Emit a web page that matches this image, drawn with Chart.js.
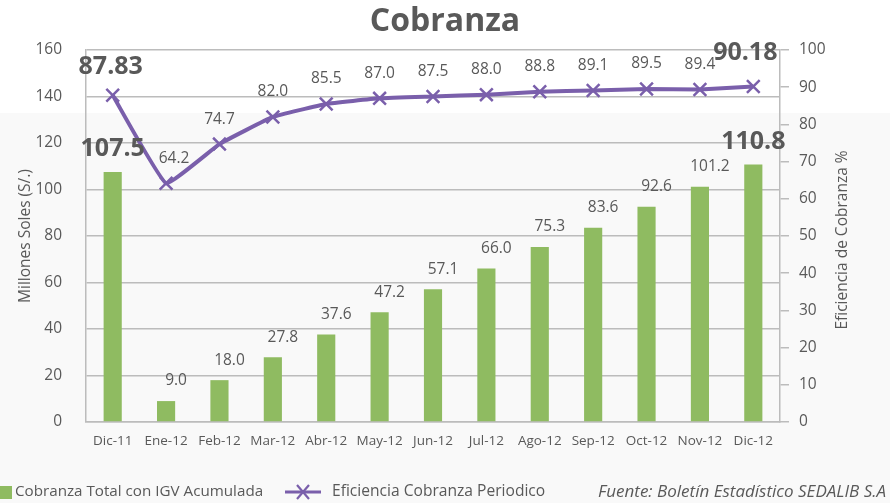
<!DOCTYPE html>
<html><head><meta charset="utf-8">
<script src="https://cdn.jsdelivr.net/npm/chart.js@4"></script>
<style>
html,body{margin:0;padding:0;}
body{width:890px;height:503px;background:linear-gradient(#ffffff 0,#ffffff 113px,#f9f9f9 113px,#f9f9f9 100%);overflow:hidden;}
#wrap{position:relative;width:890px;height:503px;}
</style>
</head><body><div id="wrap"><canvas id="c" width="890" height="503"></canvas></div>
<script>
const categories = ['Dic-11','Ene-12','Feb-12','Mar-12','Abr-12','May-12','Jun-12','Jul-12','Ago-12','Sep-12','Oct-12','Nov-12','Dic-12'];
const cobranzaValues = [107.5, 9.0, 18.0, 27.8, 37.6, 47.2, 57.1, 66.0, 75.3, 83.6, 92.6, 101.2, 110.8];
const eficienciaValues = [87.83, 64.2, 74.7, 82.0, 85.5, 87.0, 87.5, 88.0, 88.8, 89.1, 89.5, 89.4, 90.18];
const leftTickRange = [0, 160, 20];
const rightTickRange = [0, 100, 10];
const chartTitle = 'Cobranza';
const seriesNames = ['Cobranza Total con IGV Acumulada', 'Eficiencia Cobranza Periodico'];
const axisTitles = ['Millones Soles (S/.)', 'Eficiencia de Cobranza %'];
const sourceNote = 'Fuente: Boletín Estadístico SEDALIB S.A';

const GREEN = '#8fbb61';
const PURPLE = '#7a5fab';
const TEXT = '#595959';
const GRID = '#bcbcbc';
const FONT = "'Open Sans', sans-serif";

const labelPlugin = {
  id: 'labels',
  afterDatasetsDraw(chart) {
    const ctx = chart.ctx;
    ctx.save();
    ctx.textAlign = 'center';
    ctx.textBaseline = 'middle';
    ctx.fillStyle = TEXT;
    const n = categories.length;
    const barMeta = chart.getDatasetMeta(0);
    barMeta.data.forEach((el, i) => {
      const emph = (i === 0 || i === n - 1);
      ctx.font = emph ? `bold 25px ${FONT}` : `15.5px ${FONT}`;
      const dx = emph ? 0 : 10;
      const dy = emph ? 23 : 20;
      ctx.fillText(cobranzaValues[i].toFixed(1), el.x + dx, el.y - dy);
    });
    const lineMeta = chart.getDatasetMeta(1);
    lineMeta.data.forEach((el, i) => {
      const emph = (i === 0 || i === n - 1);
      ctx.font = emph ? `bold 25px ${FONT}` : `15.5px ${FONT}`;
      let dx = 0, dy = 25;
      if (emph) { dy = i === 0 ? 28 : 34; dx = i === 0 ? -2 : -8; }
      if (i === 1) { dx = 8; dy = 25; }
      ctx.fillText(emph ? eficienciaValues[i].toFixed(2) : eficienciaValues[i].toFixed(1), el.x + dx, el.y - dy);
    });
    ctx.restore();
  }
};

const decorPlugin = {
  id: 'decor',
  afterDraw(chart) {
    const ctx = chart.ctx;
    const area = chart.chartArea;
    ctx.save();
    ctx.fillStyle = TEXT;
    ctx.textBaseline = 'middle';
    ctx.textAlign = 'center';
    ctx.font = `bold 32px ${FONT}`;
    ctx.fillText(chartTitle, 445, 22);
    // right axis title, reading bottom to top
    ctx.save();
    ctx.translate(843, (area.top + area.bottom) / 2 + 4);
    ctx.rotate(-Math.PI / 2);
    ctx.font = `15.5px ${FONT}`;
    ctx.fillText(axisTitles[1], 0, 0);
    ctx.restore();
    // legend
    const ly = 492;
    ctx.fillStyle = GREEN;
    ctx.fillRect(0, ly - 6, 12, 13);
    ctx.font = `15.2px ${FONT}`;
    ctx.fillStyle = TEXT;
    ctx.textAlign = 'left';
    ctx.fillText(seriesNames[0], 15, ly);
    ctx.strokeStyle = PURPLE;
    ctx.lineWidth = 3;
    ctx.beginPath(); ctx.moveTo(285, ly); ctx.lineTo(321, ly); ctx.stroke();
    ctx.lineWidth = 2.2;
    ctx.beginPath();
    ctx.moveTo(297, ly - 7); ctx.lineTo(309, ly + 7);
    ctx.moveTo(309, ly - 7); ctx.lineTo(297, ly + 7);
    ctx.stroke();
    ctx.font = `15.6px ${FONT}`;
    ctx.fillText(seriesNames[1], 332, ly);
    ctx.font = `italic 17px ${FONT}`;
    ctx.textAlign = 'right';
    ctx.fillText(sourceNote, 886, ly);
    ctx.restore();
  }
};

new Chart(document.getElementById('c'), {
  data: {
    labels: categories,
    datasets: [
      {
        type: 'bar',
        label: seriesNames[0],
        data: cobranzaValues,
        backgroundColor: GREEN,
        yAxisID: 'y',
        categoryPercentage: 1,
        barPercentage: 0.34,
        order: 2
      },
      {
        type: 'line',
        label: seriesNames[1],
        data: eficienciaValues,
        borderColor: PURPLE,
        backgroundColor: PURPLE,
        borderWidth: 4,
        pointStyle: 'crossRot',
        pointRadius: 9,
        pointBorderWidth: 2.5,
        pointBorderColor: PURPLE,
        tension: 0.1,
        yAxisID: 'y1',
        order: 1
      }
    ]
  },
  options: {
    responsive: false,
    animation: false,
    devicePixelRatio: 1,
    layout: { padding: { top: 50, left: 0, right: 0, bottom: 0 } },
    plugins: { legend: { display: false }, tooltip: { enabled: false }, title: { display: false } },
    scales: {
      x: {
        grid: { display: false, drawTicks: false },
        border: { display: true, color: GRID, width: 1.5 },
        ticks: { color: TEXT, font: { family: FONT, size: 13.5 }, padding: 11, maxRotation: 0, autoSkip: false },
        afterFit(s) { s.height = 81; }
      },
      y: {
        position: 'left',
        min: leftTickRange[0], max: leftTickRange[1],
        ticks: { stepSize: leftTickRange[2], color: TEXT, font: { family: FONT, size: 15.5 }, padding: 24 },
        grid: { color: GRID, lineWidth: 1.5, drawTicks: false },
        border: { display: true, color: GRID, width: 1.5 },
        title: { display: true, text: axisTitles[0], color: TEXT, font: { family: FONT, size: 15.5 }, padding: { top: 16 } },
        afterFit(s) { s.width = 86; }
      },
      y1: {
        position: 'right',
        min: rightTickRange[0], max: rightTickRange[1],
        ticks: { stepSize: rightTickRange[2], color: TEXT, font: { family: FONT, size: 15.5 }, padding: 10 },
        grid: { drawOnChartArea: false, color: GRID, lineWidth: 1.5, tickLength: 9 },
        border: { display: true, color: GRID, width: 1.5 },
        title: { display: false },
        afterFit(s) { s.width = 110; }
      }
    }
  },
  plugins: [labelPlugin, decorPlugin]
});
</script>
</body></html>
